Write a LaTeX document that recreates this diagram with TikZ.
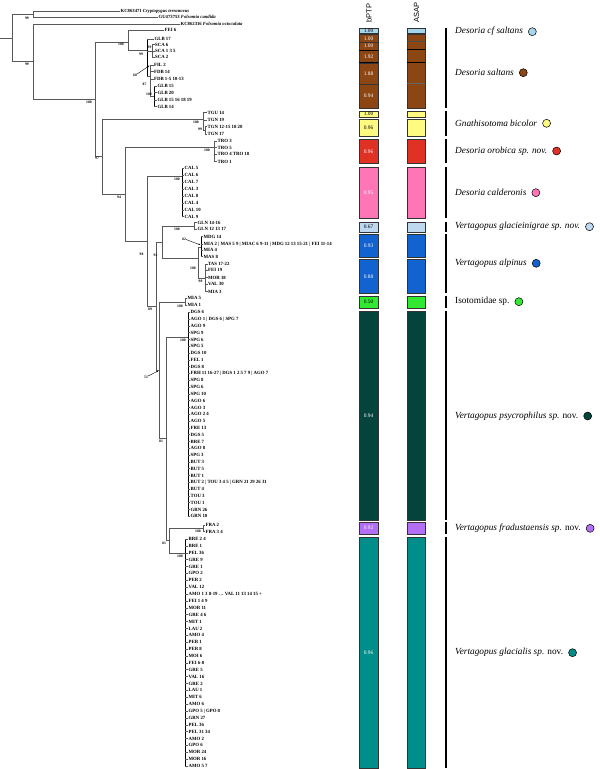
\documentclass[tikz,border=0pt]{standalone}
\usepackage{fontspec}
\setmainfont{Liberation Serif}
\newfontfamily\hdrfont{Liberation Sans}
\usetikzlibrary{arrows.meta, positioning}

% clade colours
\definecolor{cfsalt}{RGB}{166,214,234}
\definecolor{salt}{RGB}{139,70,20}
\definecolor{bicol}{RGB}{255,250,128}
\definecolor{orob}{RGB}{224,50,36}
\definecolor{cald}{RGB}{255,118,182}
\definecolor{glac}{RGB}{190,216,240}
\definecolor{alpi}{RGB}{18,98,208}
\definecolor{isot}{RGB}{50,232,50}
\definecolor{psyc}{RGB}{5,68,60}
\definecolor{frad}{RGB}{178,110,245}
\definecolor{glcl}{RGB}{0,142,138}

\begin{document}
\begin{tikzpicture}[x=1pt, y=-1pt,
    br/.style={draw=black!65, line width=0.5pt},
    poly/.style={draw=black, line width=0.9pt},
    tip/.style={anchor=west, inner sep=0.4pt, font=\fontsize{4.8}{4.8}\selectfont\bfseries},
    outg/.style={anchor=west, inner sep=0.4pt, font=\fontsize{4.7}{4.7}\selectfont\bfseries},
    supp/.style={inner sep=0pt, font=\fontsize{3.7}{3.7}\selectfont\bfseries},
    box/.style={draw=black!80, line width=0.35pt},
    val/.style={inner sep=0pt, font=\fontsize{5.4}{5.4}\selectfont},
    hdr/.style={rotate=90, inner sep=0pt, font=\hdrfont\fontsize{7.5}{7.5}\selectfont},
    sp/.style={anchor=west, inner sep=0pt, font=\fontsize{9.3}{9.3}\selectfont},
    dot/.style={circle, draw=black, line width=0.5pt, minimum size=8pt, inner sep=0pt},
    bar/.style={line width=2.6pt},
    pointer/.style={-{Stealth[length=2.2pt, width=1.6pt]}, line width=0.4pt}
  ]
\useasboundingbox (0,0) rectangle (600,769);

% root and outgroups
\draw[br] (0,38) -- (12,38);
\draw[br] (12,14) -- (12,61.5);
\draw[br] (12,14) -- (33,14);
\draw[br] (33,11) -- (33,17);
\draw[br] (33,11) -- (120,11) node[outg] (og1) {KC863471 \textit{Cryptopygus terranovus}};
\draw[br] (33,17) -- (158,17) node[outg] (og2) {GU473753 \textit{Folsomia candida}};
\node[supp] (b1) at (27,18.5) {99};
\draw[br] (12,61.5) -- (33,61.5);
\draw[br] (33,24) -- (33,99);
\draw[br] (33,24) -- (180,24) node[outg] (og3) {KC862316 \textit{Folsomia octoculata}};
\node[supp] (b2) at (27,64) {99};

% ingroup
\draw[br] (33,99) -- (95,99);
\draw[br] (95,42) -- (95,156);
\node[supp] (b3) at (89,102) {100};

% Desoria saltans group
\draw[br] (95,42) -- (128,42);
\draw[br] (128,30) -- (128,50);
\node[supp] (b4) at (121,44.5) {100};
\draw[br] (128,30) -- (164,30) node[tip] (fei6) {FEI 6};
\draw[br] (128,50) -- (147,50);
\draw[poly] (147,39) -- (147,76);
\node[supp] (b5) at (141,54) {99};
\draw[br] (147,39) -- (154,39) node[tip] (glb17) {GLB 17};
\draw[br] (147,51) -- (152,51);
\draw[br] (152,44.7) -- (152,57.3);
\node[supp] (b6) at (149.5,47) {99};
\foreach \y/\t [count=\i] in {44.7/SCA 6, 51/SCA 1 3 5, 57.3/SCA 2}
  \draw[br] (152,\y) -- (154.5,\y) node[tip] (sca\i) {\t};
\draw[br] (147,76) -- (150,76);
\draw[br] (150,65) -- (150,96);
\foreach \y/\t [count=\i] in {65/FIL 2, 71.7/FDB 14, 79.3/FDB 1-5 10-13}
  \draw[br] (150,\y) -- (153.5,\y) node[tip] (fdb\i) {\t};
\node[supp] (b7) at (135,75.5) {60};
\draw[pointer] (b7.north east) -- (149.5,65.5);
\node[supp] (b8) at (144.5,84) {87};
\draw[br] (150,96) -- (154,96);
\draw[poly] (154,86) -- (154,106.7);
\node[supp] (b9) at (149,94) {100};
\foreach \y/\t [count=\i] in {86/GLB 15, 92.7/GLB 20, 100/GLB 15 16 18 19, 106.7/GLB 14}
  \draw[br] (154,\y) -- (157,\y) node[tip] (glb\i) {\t};

% Gnathisotoma bicolor
\draw[br] (95,156) -- (102,156);
\draw[br] (102,119) -- (102,194);
\node[supp] (b10) at (97,158.5) {97};
\draw[br] (102,119) -- (203,119);
\draw[br] (203,112.7) -- (203,130);
\node[supp] (b11) at (196,122) {100};
\foreach \y/\t [count=\i] in {112.7/TGU 14, 120/TGN 19}
  \draw[br] (203,\y) -- (207,\y) node[tip] (tgu\i) {\t};
\draw[br] (203,130) -- (205,130);
\draw[br] (205,126.7) -- (205,134);
\node[supp] (b12) at (200,129.5) {99};
\foreach \y/\t [count=\i] in {126.7/TGN 12-15 18 20, 134/TGN 17}
  \draw[br] (205,\y) -- (207,\y) node[tip] (tgn\i) {\t};

% Desoria orobica
\draw[br] (102,194) -- (125,194);
\draw[br] (125,147) -- (125,241);
\node[supp] (b13) at (119,197) {94};
\draw[br] (125,147) -- (214,147);
\draw[br] (214,141) -- (214,161.7);
\node[supp] (b14) at (207,150.5) {100};
\foreach \y/\t [count=\i] in {141/TRO 3, 147.7/TRO 5, 154.3/TRO 4 TRO 18, 161.7/TRO 1}
  \draw[br] (214,\y) -- (217,\y) node[tip] (tro\i) {\t};

% Desoria calderonis
\draw[br] (125,241) -- (147,241);
\draw[br] (147,176) -- (147,306);
\node[supp] (b15) at (141.5,254.5) {98};
\draw[br] (147,176) -- (182,176);
\draw[poly] (182,168.3) -- (182,216.7);
\node[supp] (b16) at (177,179.5) {100};
\foreach \t [count=\i from 0] in {CAL 5, CAL 6, CAL 7, CAL 3, CAL 8, CAL 4, CAL 10, CAL 9}{
  \pgfmathsetmacro{\yy}{168.3+\i*6.91}
  \draw[br] (182,\yy) -- (184,\yy) node[tip] (cal\i) {\t};
}

% Vertagopus glacieinigrae and V. alpinus
\draw[br] (147,306) -- (156,306);
\draw[br] (156,242) -- (156,370);
\node[supp] (b17) at (150,309.5) {89};
\draw[br] (156,242) -- (162,242);
\draw[br] (162,226) -- (162,258);
\node[supp] (b18) at (155.5,255) {92};
\draw[br] (162,226) -- (194,226);
\draw[br] (194,222.7) -- (194,229.3);
\node[supp] (b19) at (177,229.5) {100};
\foreach \y/\t [count=\i] in {222.7/GLN 14-16, 229.3/GLN 12 13 17}
  \draw[br] (194,\y) -- (197,\y) node[tip] (gln\i) {\t};
\draw[br] (162,258) -- (198,258);
\draw[br] (198,247) -- (198,278);
\node[supp] (b20) at (193,268) {100};
\draw[br] (198,247) -- (201,247);
\draw[poly] (201,236.7) -- (201,256.7);
\foreach \y/\t [count=\i] in {236.7/MDG 14, 244.3/MIA 2 | MAS 5 9 | MIAC 6 9-11 | MDG 12 13 15-21 | FEI 11-14, 250/MIA 4, 256.7/MAS 8}
  \draw[br] (201,\y) -- (203,\y) node[tip] (mdg\i) {\t};
\node[supp] (b21) at (184,239.5) {82};
\draw[pointer] (b21.east) -- (200.5,245);
\draw[br] (198,278) -- (205,278);
\draw[br] (205,264.3) -- (205,291.7);
\node[supp] (b22) at (200.5,281.5) {98};
\foreach \y/\t [count=\i] in {264.3/TAS 17-22, 270/FEI 19, 277.7/MOR 18, 284.3/VAL 30, 291.7/MIA 3}
  \draw[br] (205,\y) -- (207.5,\y) node[tip] (tas\i) {\t};

% Isotomidae sp.
\draw[br] (156,370) -- (159,370);
\draw[br] (159,302) -- (159,438);
\node[supp] (b23) at (146,377.5) {51};
\draw[pointer] (b23.north east) -- (158.3,370.8);
\draw[br] (159,302) -- (185,302);
\draw[br] (185,298.3) -- (185,305);
\node[supp] (b24) at (180,306.5) {100};
\foreach \y/\t [count=\i] in {298.3/MIA 5, 305/MIA 1}
  \draw[br] (185,\y) -- (187,\y) node[tip] (mia\i) {\t};

% Vertagopus psycrophilus
\draw[br] (159,438) -- (166,438);
\draw[br] (166,337) -- (166,540);
\node[supp] (b25) at (161,441.5) {81};
\draw[br] (166,337) -- (188,337);
\draw[poly] (188,312.3) -- (188,516.3);
\node[supp] (b26) at (183,340.5) {100};
\foreach \t [count=\i from 0] in {DGS 6, AGO 1 | DGS 6 | SPG 7, AGO 9, SPG 9, SPG 6, SPG 5, DGS 10, FEL 1, DGS 8,
    FRH 11 16-27 | DGS 1 2 5 7 9 | AGO 7, SPG 8, SPG 6, SPG 10, AGO 6, AGO 3, AGO 2 4, AGO 5, FRE 13, DGS 5,
    BRE 7, AGO 8, SPG 3, BUT 3, BUT 5, BUT 1, BUT 2 | TOU 3 4 5 | GRN 21 29 26 31, BUT 4, TOU 3, TOU 1, GRN 26, GRN 10}{
  \pgfmathsetmacro{\yy}{312.3+\i*6.8}
  \draw[br] (188,\yy) -- (190,\yy) node[tip] (psy\i) {\t};
}

% Vertagopus fradustaensis and V. glacialis
\draw[br] (166,540) -- (169,540);
\draw[br] (169,528) -- (169,553);
\node[supp] (b27) at (164,543.5) {81};
\draw[br] (169,528) -- (203,528);
\draw[br] (203,525) -- (203,531.7);
\node[supp] (b28) at (198,531) {100};
\foreach \y/\t [count=\i] in {525/FRA 2, 531.7/FRA 3 4}
  \draw[br] (203,\y) -- (205,\y) node[tip] (fra\i) {\t};
\draw[br] (169,553) -- (185,553);
\draw[poly] (185,539) -- (185,766);
\node[supp] (b29) at (180,556.5) {100};
\foreach \t [count=\i from 0] in {BRE 2 4, BRE 1, PEL 36, GRE 9, GRE 1, GPO 2, PER 2, VAL 12, {AMO 1 3 8-19 \ldots{} VAL 11 13 14 15 +},
    FEI 1 4 9, MOR 11, GRE 4 6, MIT 1, LAU 2, AMO 4, PER 1, PER 8, MOI 6, FEI 6-8, GRE 5, VAL 16, GRE 2, LAU 1,
    MIT 6, AMO 6, GPO 5 | GPO 8, GRN 27, PEL 36, PEL 31 34, AMO 2, GPO 6, MOR 24, MOR 16, AMO 5 7}{
  \pgfmathsetmacro{\yy}{539+\i*6.88}
  \draw[br] (185,\yy) -- (188,\yy) node[tip] (glc\i) {\t};
}

% headers
\node[hdr] (hbptp) at (369,13) {bPTP};
\node[hdr] (hasap) at (416.5,12) {ASAP};

% bPTP column
\foreach \ya/\yb/\col/\v/\tc [count=\i] in {28.3/33.5/cfsalt/1.00/black, 34.3/42.3/salt/1.00/white, 42.3/50/salt/1.00/white,
    50/62.7/salt/1.92/white, 62.7/84/salt/1.88/white, 84/108.3/salt/0.94/white, 111/116.7/bicol/1.00/black,
    119/136/bicol/0.96/black, 139.3/163.3/orob/0.96/white, 166.7/218.3/cald/0.95/white, 221.7/232.3/glac/0.67/black,
    234.3/257.3/alpi/0.93/white, 259.3/293.3/alpi/0.88/white, 295.7/308.3/isot/0.50/black, 310.7/520/psyc/0.94/white,
    522.3/534/frad/0.92/white, 536.7/768/glcl/0.96/white}{
  \draw[box, fill=\col] (359,\ya) rectangle (378,\yb);
  \node[val, text=\tc] (v\i) at (368.5,{(\ya+\yb)/2}) {\v};
}
\draw[black, line width=0.9pt] (359,50) -- (378,50);
\draw[black, line width=0.9pt] (359,62.7) -- (378,62.7);

% ASAP column
\foreach \ya/\yb/\col in {28.3/33.5/cfsalt, 34.3/108.3/salt, 111/116.7/bicol, 119/136/bicol, 139.3/163.3/orob,
    166.7/218.3/cald, 221.7/232.3/glac, 234.3/257.3/alpi, 259.3/293.3/alpi, 295.7/308.3/isot, 310.7/520/psyc,
    522.3/534/frad, 536.7/768/glcl}
  \draw[box, fill=\col] (406.7,\ya) rectangle (425,\yb);
\draw[black!70, line width=0.4pt] (406.7,41) -- (425,41);
\draw[black, line width=0.9pt] (406.7,49.5) -- (425,49.5);
\draw[black, line width=0.9pt] (406.7,62.7) -- (425,62.7);
\draw[black!60, line width=0.4pt] (406.7,83.5) -- (425,83.5);

% species bars
\foreach \ya/\yb in {28.3/108.3, 111/136, 139.3/163.3, 166.7/218.3, 221.7/232.3, 234.3/293.3, 295.7/308.3,
    310.7/520, 522.3/534, 536.7/768}
  \draw[bar] (446,\ya) -- (446,\yb);

% species names
\node[sp] (n1) at (455,31.7) {\textit{Desoria cf saltans}};
\node[dot, fill=cfsalt, right=5pt of n1] (d1) {};
\node[sp] (n2) at (455,72.7) {\textit{Desoria saltans}};
\node[dot, fill=salt, right=5pt of n2] (d2) {};
\node[sp] (n3) at (455,123.3) {\textit{Gnathisotoma bicolor}};
\node[dot, fill=bicol, right=5pt of n3] (d3) {};
\node[sp] (n4) at (455,151) {\textit{Desoria orobica sp. nov.}};
\node[dot, fill=orob, right=5pt of n4] (d4) {};
\node[sp] (n5) at (455,192.7) {\textit{Desoria calderonis}};
\node[dot, fill=cald, right=5pt of n5] (d5) {};
\node[sp] (n6) at (455,226.7) {\textit{Vertagopus glacieinigrae sp. nov.}};
\node[dot, fill=glac, right=5pt of n6] (d6) {};
\node[sp] (n7) at (455,263.3) {\textit{Vertagopus alpinus}};
\node[dot, fill=alpi, right=5pt of n7] (d7) {};
\node[sp] (n8) at (455,301.7) {Isotomidae sp.};
\node[dot, fill=isot, right=5pt of n8] (d8) {};
\node[sp] (n9) at (455,416) {\textit{Vertagopus psycrophilus sp.} nov.};
\node[dot, fill=psyc, right=5pt of n9] (d9) {};
\node[sp] (n10) at (455,528.3) {\textit{Vertagopus fradustaensis sp.} nov.};
\node[dot, fill=frad, right=5pt of n10] (d10) {};
\node[sp] (n11) at (455,652.7) {\textit{Vertagopus glacialis sp.} nov.};
\node[dot, fill=glcl, right=5pt of n11] (d11) {};

\end{tikzpicture}
\end{document}
